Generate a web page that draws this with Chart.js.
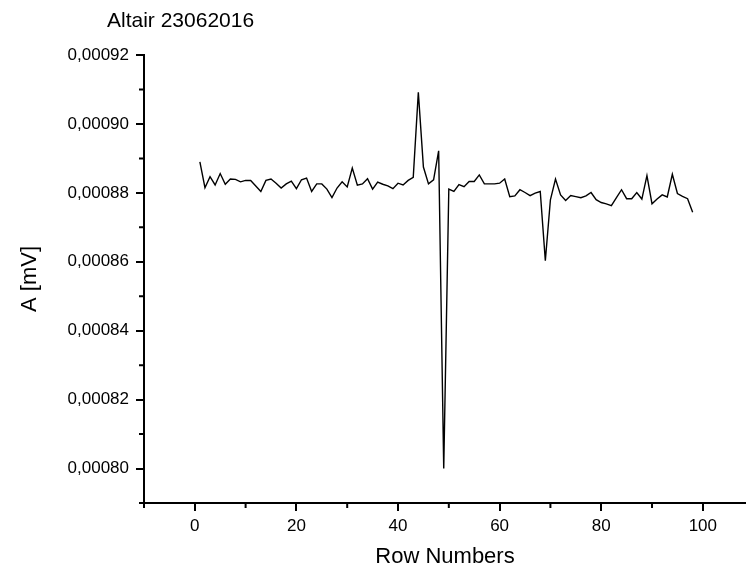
<!DOCTYPE html>
<html>
<head>
	<title>Altair 23062016</title>
	<script src="https://cdn.jsdelivr.net/npm/chart.js"></script>
	<style>
		body { margin: 0; background: #fff; }
	</style>
</head>
<body>
	<canvas id="myChart" width="746" height="574"></canvas>

	<script>
		// row numbers (x) and amplitude in mV (y)
		const rowNumbers = [
			1, 2, 3, 4, 5, 6, 7, 8, 9, 10, 11, 12, 13, 14, 15, 16, 17, 18, 19, 20,
			21, 22, 23, 24, 25, 26, 27, 28, 29, 30, 31, 32, 33, 34, 35, 36, 37, 38, 39, 40,
			41, 42, 43, 44, 45, 46, 47, 48, 49, 50, 51, 52, 53, 54, 55, 56, 57, 58, 59, 60,
			61, 62, 63, 64, 65, 66, 67, 68, 69, 70, 71, 72, 73, 74, 75, 76, 77, 78, 79, 80,
			81, 82, 83, 84, 85, 86, 87, 88, 89, 90, 91, 92, 93, 94, 95, 96, 97, 98
		];
		const amplitude = [
			0.0008890, 0.0008815, 0.0008847, 0.0008823, 0.0008856, 0.0008825, 0.0008840, 0.0008839, 0.0008832, 0.0008836,
			0.0008836, 0.0008820, 0.0008804, 0.0008836, 0.0008840, 0.0008828, 0.0008814, 0.0008826, 0.0008834, 0.0008812,
			0.0008838, 0.0008843, 0.0008804, 0.0008826, 0.0008826, 0.0008811, 0.0008786, 0.0008814, 0.0008832, 0.0008817,
			0.0008872, 0.0008822, 0.0008826, 0.0008841, 0.0008811, 0.0008831, 0.0008825, 0.0008820, 0.0008812, 0.0008828,
			0.0008823, 0.0008836, 0.0008845, 0.0009092, 0.0008875, 0.0008826, 0.0008838, 0.0008922, 0.0008000, 0.0008811,
			0.0008804, 0.0008824, 0.0008818, 0.0008833, 0.0008833, 0.0008852, 0.0008826, 0.0008826, 0.0008826, 0.0008828,
			0.0008840, 0.0008789, 0.0008791, 0.0008809, 0.0008801, 0.0008792, 0.0008799, 0.0008804, 0.0008603, 0.0008780,
			0.0008840, 0.0008794, 0.0008778, 0.0008792, 0.0008789, 0.0008786, 0.0008791, 0.0008801, 0.0008780, 0.0008772,
			0.0008768, 0.0008763, 0.0008786, 0.0008809, 0.0008783, 0.0008783, 0.0008801, 0.0008782, 0.0008850, 0.0008768,
			0.0008782, 0.0008794, 0.0008788, 0.0008854, 0.0008798, 0.0008790, 0.0008783, 0.0008744
		];

		const xTicks = [0, 20, 40, 60, 80, 100];
		const xMinorTicks = [-10, 10, 30, 50, 70, 90];
		const yTicks = [0.00080, 0.00082, 0.00084, 0.00086, 0.00088, 0.00090, 0.00092];
		const yMinorTicks = [0.00079, 0.00081, 0.00083, 0.00085, 0.00087, 0.00089, 0.00091];

		const FONT = 'Liberation Sans, Arial, sans-serif';

		// minor ticks + plot title
		const extras = {
			id: 'extras',
			afterDraw(chart) {
				const ctx = chart.ctx;
				const xs = chart.scales.x, ys = chart.scales.y;
				const area = chart.chartArea;
				ctx.save();
				ctx.strokeStyle = '#000';
				ctx.lineWidth = 2;
				ctx.beginPath();
				xMinorTicks.forEach(v => {
					const px = xs.getPixelForValue(v);
					ctx.moveTo(px, area.bottom);
					ctx.lineTo(px, area.bottom + 5);
				});
				yMinorTicks.forEach(v => {
					const py = ys.getPixelForValue(v);
					ctx.moveTo(area.left, py);
					ctx.lineTo(area.left - 5, py);
				});
				ctx.stroke();
				ctx.fillStyle = '#000';
				ctx.font = '21px ' + FONT;
				ctx.textBaseline = 'middle';
				ctx.textAlign = 'left';
				ctx.fillText('Altair 23062016', 107, 21);
				ctx.restore();
			}
		};

		const ctx = document.getElementById('myChart').getContext('2d');
		const chart = new Chart(ctx, {
			type: 'line',
			data: {
				datasets: [{
					label: 'A',
					data: rowNumbers.map((r, i) => ({x: r, y: amplitude[i]})),
					borderColor: '#000',
					borderWidth: 1.4,
					pointRadius: 0,
					fill: false,
					tension: 0
				}]
			},
			options: {
				responsive: false,
				animation: false,
				layout: { padding: { left: 5, top: 55, right: 0, bottom: 0 } },
				plugins: {
					legend: { display: false },
					tooltip: { enabled: false }
				},
				scales: {
					x: {
						type: 'linear',
						min: -10,
						max: 108.5,
						afterBuildTicks: s => { s.ticks = xTicks.map(v => ({value: v})); },
						afterFit: s => { s.height = 71; },
						grid: { drawOnChartArea: false, drawTicks: true, tickLength: 8, color: '#000', lineWidth: 2 },
						border: { display: true, color: '#000', width: 2 },
						ticks: { color: '#000', padding: 5, maxRotation: 0, font: { family: FONT, size: 17 } },
						title: { display: true, text: 'Row Numbers', color: '#000', padding: { top: 0, bottom: 4 }, font: { family: FONT, size: 22 } }
					},
					y: {
						min: 0.00079,
						max: 0.00092,
						afterBuildTicks: s => { s.ticks = yTicks.map(v => ({value: v})); },
						afterFit: s => { s.width = 139; },
						grid: { drawOnChartArea: false, drawTicks: true, tickLength: 8, color: '#000', lineWidth: 2 },
						border: { display: true, color: '#000', width: 2 },
						ticks: {
							color: '#000',
							padding: 7,
							font: { family: FONT, size: 17 },
							callback: v => v.toFixed(5).replace('.', ',')
						},
						title: { display: true, text: 'A [mV]', color: '#000', padding: { top: 12, bottom: 0 }, font: { family: FONT, size: 22 } }
					}
				}
			},
			plugins: [extras]
		});
	</script>
</body>
</html>
